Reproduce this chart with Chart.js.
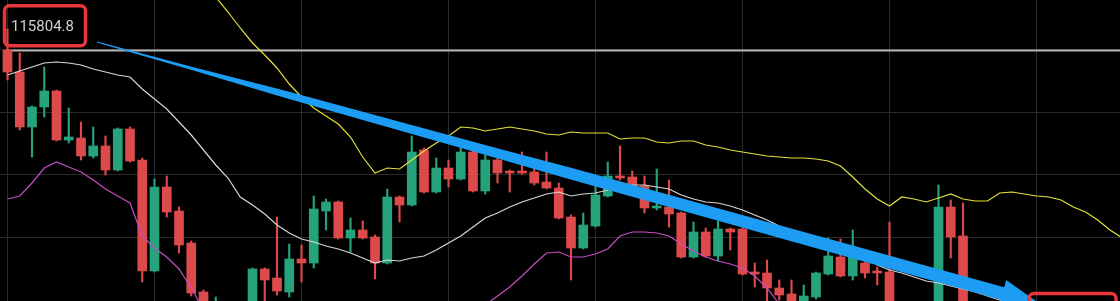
<!DOCTYPE html>
<html>
<head>
<meta charset="utf-8">
<title>BTC candles</title>
<script src="https://cdn.jsdelivr.net/npm/chart.js@4.4.0/dist/chart.umd.min.js"></script>
<style>
  html, body { margin: 0; padding: 0; background: #000; overflow: hidden; }
  #wrap { width: 1120px; height: 301px; }
</style>
</head>
<body>
<div id="wrap"><canvas id="chart" width="1120" height="301"></canvas></div>
<script>
// OHLC per candle (null = candle sits below the visible window)
const opens = [115800, 115448, 114568, 114888, 115144, 114360, 114392, 114104, 114264, 113880,
  114536, 114040, 112264, 113608, 113224, 112712, 111928, 111480, null, null,
  111640, 112296, 112152, 111928, 112456, 112392, 113224, 113368, 112792, 112920,
  112808, 112392, 113448, 113320, 114200, 113528, 113912, 113736, 114168, 113544,
  114040, 113864, 113864, 113848, 113688, 113592, 113128, 112632, 112984, 113464,
  113784, 113768, 113624, 113272, 113288, 113192, 112488, 112888, 112504, 112936,
  112936, 112248, 112232, 111992, 111896, 111720, 111848, 112216, 112488, 112184,
  112392, 112248, 112248, null, null, null, 111640, 113288, 112824];
const closes = [115448, 114568, 114888, 115144, 114360, 114408, 114104, 114264, 113880, 114536,
  114024, 112264, 113608, 113208, 112680, 111912, 111640, 111720, null, null,
  112296, 112120, 111944, 112456, 112392, 113256, 113368, 112792, 112920, 112792,
  112392, 113448, 113320, 114168, 113528, 113912, 113736, 114168, 113544, 114040,
  113832, 113832, 113832, 113672, 113592, 113112, 112632, 113000, 113480, 113784,
  113752, 113608, 113272, 113304, 113176, 112488, 112888, 112504, 112936, 112888,
  112216, 112216, 111992, 111880, 111720, 111864, 112232, 112504, 112184, 112488,
  112232, 112232, 111640, null, null, null, 113288, 112808, 111720];
const highs = [116136, 115752, 114904, 115528, 115160, 114872, 114648, 114568, 114424, 114552,
  114568, 114072, 113736, 113784, 113288, 112744, 111960, 111848, null, null,
  112312, 112312, 113128, 112696, 112680, 113464, 113416, 113384, 113112, 113064,
  112840, 113576, 113464, 114424, 114232, 114072, 114040, 114248, 114200, 114120,
  114088, 113880, 114168, 113912, 114168, 113672, 113160, 113192, 113640, 114008,
  114264, 113864, 113784, 113896, 113720, 113208, 113048, 112952, 113064, 112952,
  112952, 112392, 112440, 112120, 112120, 112040, 112248, 112792, 112776, 112920,
  112408, 112328, 113048, null, null, null, 113640, 113400, 113352];
const lows = [115320, 114520, 114088, 114728, 114344, 114312, 114040, 114072, 113800, 113864,
  114008, 112088, 112248, 113128, 112552, 111864, 111560, 111400, null, null,
  111608, 111720, 111880, 111848, 112088, 112312, 112920, 112776, 112568, 112776,
  112136, 112376, 113048, 113304, 113512, 113512, 113608, 113720, 113528, 113496,
  113672, 113528, 113816, 113640, 113576, 113096, 112120, 112616, 112968, 113448,
  113720, 113592, 113192, 113240, 112968, 112472, 112472, 112488, 112424, 112600,
  112200, 112008, 111768, 111800, 111672, 111672, 111816, 112200, 112168, 112120,
  112152, 112040, 111608, null, null, null, 111608, 112472, 111640];

// Bollinger-style bands (null = outside the window)
const upperBand = [null, null, null, null, null, null, null, null, null, null,
  null, null, null, null, null, null, 116888, 116648, 116408, 116152,
  115912, 115720, 115512, 115256, 115048, 114872, 114744, 114616, 114408, 114088,
  113832, 113912, 113896, 114040, 114184, 114312, 114424, 114568, 114552, 114504,
  114536, 114568, 114536, 114504, 114456, 114440, 114488, 114472, 114472, 114472,
  114376, 114392, 114392, 114328, 114312, 114344, 114344, 114280, 114248, 114200,
  114168, 114136, 114104, 114088, 114072, 114072, 114056, 114024, 113944, 113768,
  113576, 113416, 113304, 113448, 113416, 113368, 113432, 113496, 113416, 113384,
  113384, 113512, 113528, 113496, 113464, 113448, 113400, 113288, 113208, 113080,
  112920, 112792];
const middleBand = [115400, 115464, 115528, 115592, 115608, 115592, 115560, 115496, 115448, 115400,
  115368, 115176, 115016, 114856, 114648, 114440, 114200, 113960, 113752, 113448,
  113320, 113176, 113000, 112872, 112776, 112728, 112664, 112616, 112552, 112472,
  112392, 112440, 112424, 112472, 112504, 112600, 112712, 112824, 112968, 113112,
  113192, 113288, 113368, 113432, 113496, 113528, 113464, 113496, 113512, 113560,
  113608, 113640, 113640, 113608, 113576, 113480, 113416, 113368, 113352, 113304,
  113240, 113160, 113080, 112984, 112904, 112840, 112792, 112760, 112712, 112600,
  112472, 112360, 112280, 112232, 112168, 112104, 112072, 112024, 111976, 111928,
  111864, 111800, 111736];
const lowerBand = [113416, 113464, 113672, 113912, 114008, 113928, 113848, 113720, 113576, 113464,
  113352, 112824, 112632, 112488, 112296, 111992, 111640, null, null, null,
  null, null, null, null, null, null, null, null, null, null,
  null, null, null, null, null, null, null, null, 111512, 111720,
  111864, 112008, 112184, 112376, 112552, 112568, 112488, 112488, 112536, 112616,
  112824, 112888, 112888, 112872, 112824, 112696, 112584, 112488, 112424, 112376,
  112312, 112184, 111992, 111736, 111512];

const gridPrices = [112800, 113800, 114800, 115800];
const gridCandles = [6, 18, 30, 42, 54, 66, 78, 90];
const lastPrice = 115804.8;
const lastPriceLabel = '115804.8';
// hand-drawn trend arrow: [candle index, price]
const arrowFrom = [7.3, 115928];
const arrowTo = [84.3, 111736];

const RED = '#dd4a4b';
const GREEN = '#26a37c';

const bodies = [], wicks = [], candleColors = [];
opens.forEach((o, i) => {
  if (o === null) return;
  bodies.push({ x: i, y: [o, closes[i]] });
  wicks.push({ x: i, y: [lows[i], highs[i]] });
  candleColors.push(closes[i] >= o ? GREEN : RED);
});
const band = arr => arr.map((v, i) => ({ x: i, y: v }));

// arrow half-width along its length (fraction of length, px)
const taper = [[0, 0.5], [0.1, 1.5], [0.2, 3.5], [0.42, 4.8], [0.5, 5.6], [0.79, 6.3], [0.96, 6.5]];

const overlay = {
  id: 'overlay',
  beforeDatasetsDraw(chart) {
    const { ctx, chartArea, scales: { y } } = chart;
    const py = Math.round(y.getPixelForValue(lastPrice)) + 0.5;
    ctx.save();
    ctx.strokeStyle = '#b3b3b3';
    ctx.lineWidth = 2;
    ctx.beginPath();
    ctx.moveTo(chartArea.left + 6, py);
    ctx.lineTo(chartArea.right, py);
    ctx.stroke();
    ctx.restore();
  },
  afterDatasetsDraw(chart) {
    const { ctx, chartArea, scales: { x, y } } = chart;
    // blue arrow
    const x0 = x.getPixelForValue(arrowFrom[0]), y0 = y.getPixelForValue(arrowFrom[1]);
    const x1 = x.getPixelForValue(arrowTo[0]), y1 = y.getPixelForValue(arrowTo[1]);
    const len = Math.hypot(x1 - x0, y1 - y0);
    const ux = (x1 - x0) / len, uy = (y1 - y0) / len;
    const nx = -uy, ny = ux;
    const headW = 14;
    const at = t => [x0 + ux * len * t, y0 + uy * len * t];
    ctx.save();
    ctx.fillStyle = '#1c9cf2';
    ctx.beginPath();
    taper.forEach(([t, w], k) => {
      const [px, py] = at(t);
      if (k === 0) ctx.moveTo(px + nx * w, py + ny * w);
      else ctx.lineTo(px + nx * w, py + ny * w);
    });
    const [bx, by] = at(taper[taper.length - 1][0]);
    ctx.lineTo(bx + nx * headW, by + ny * headW);
    ctx.lineTo(x1, y1);
    ctx.lineTo(bx - nx * headW, by - ny * headW);
    taper.slice().reverse().forEach(([t, w]) => {
      const [px, py] = at(t);
      ctx.lineTo(px - nx * w, py - ny * w);
    });
    ctx.closePath();
    ctx.fill();

    // price label + red marker boxes
    const py = y.getPixelForValue(lastPrice);
    ctx.font = '15px Roboto, "DejaVu Sans", sans-serif';
    ctx.fillStyle = '#cfcfcf';
    ctx.textBaseline = 'middle';
    ctx.fillText(lastPriceLabel, chartArea.left + 11, py - 22);

    ctx.strokeStyle = '#e8363c';
    ctx.lineWidth = 3.5;
    ctx.beginPath();
    ctx.roundRect(chartArea.left + 4.5, py - 44, 81, 40, 5);
    ctx.stroke();
    ctx.beginPath();
    ctx.roundRect(chartArea.right - 91, chartArea.bottom - 7.5, 87, 30, 5);
    ctx.stroke();
    ctx.restore();
  }
};

new Chart(document.getElementById('chart'), {
  type: 'bar',
  data: {
    datasets: [
      { type: 'line', label: 'Upper', data: band(upperBand), borderColor: '#e4e03b', borderWidth: 1.2, pointRadius: 0, tension: 0, order: 0 },
      { type: 'line', label: 'Middle', data: band(middleBand), borderColor: '#d6d6d6', borderWidth: 1.2, pointRadius: 0, tension: 0, order: 0 },
      { type: 'line', label: 'Lower', data: band(lowerBand), borderColor: '#c64cc4', borderWidth: 1.2, pointRadius: 0, tension: 0, order: 0 },
      { label: 'Body', data: bodies, backgroundColor: candleColors, barThickness: 9, grouped: false, minBarLength: 2, order: 1 },
      { label: 'Wick', data: wicks, backgroundColor: candleColors, barThickness: 1.5, grouped: false, order: 2 }
    ]
  },
  options: {
    responsive: false,
    animation: false,
    devicePixelRatio: 1,
    layout: { padding: 0 },
    scales: {
      x: {
        type: 'linear',
        min: -0.612,
        max: 90.816,
        offset: false,
        afterBuildTicks: s => { s.ticks = gridCandles.map(v => ({ value: v })); },
        afterFit: s => { s.height = 0; },
        ticks: { display: false },
        grid: { color: '#2a2a2a', drawTicks: false },
        border: { display: false }
      },
      y: {
        min: 111784,
        max: 116600,
        afterBuildTicks: s => { s.ticks = gridPrices.map(v => ({ value: v })); },
        afterFit: s => { s.width = 0; },
        ticks: { display: false },
        grid: { color: '#2a2a2a', drawTicks: false },
        border: { display: false }
      }
    },
    plugins: {
      legend: { display: false },
      tooltip: { enabled: false }
    }
  },
  plugins: [overlay]
});
</script>
</body>
</html>
